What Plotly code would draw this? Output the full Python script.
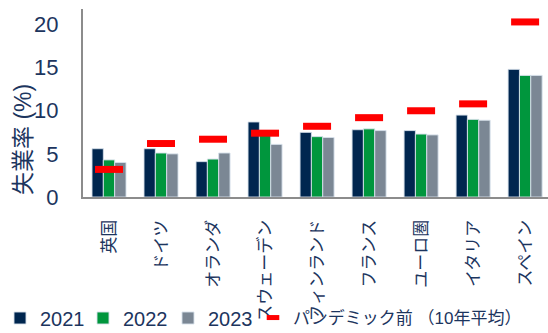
import plotly.graph_objects as go

# Unemployment rate by economy (%)
countries = ["英国", "ドイツ", "オランダ", "スウェーデン", "フィンランド",
             "フランス", "ユーロ圏", "イタリア", "スペイン"]
rate_2021 = [5.6, 5.6, 4.1, 8.7, 7.5, 7.8, 7.7, 9.5, 14.8]
rate_2022 = [4.3, 5.1, 4.4, 7.3, 7.0, 7.9, 7.3, 9.0, 14.1]
rate_2023 = [4.0, 5.0, 5.1, 6.1, 6.9, 7.7, 7.2, 8.9, 14.1]
pre_pandemic_avg = [3.2, 6.2, 6.7, 7.4, 8.2, 9.2, 10.0, 10.8, 20.3]
avg_label = "パンデミック前 （10年平均）"

NAVY = "#00264f"
GREEN = "#00963d"
GREY = "#7b8794"
RED = "#ff0000"
TEXT = "#1c355e"
FONT = "Liberation Sans, Arial, Noto Sans CJK JP, sans-serif"
W, H = 548, 333

fig = go.Figure()
series = [("2021", rate_2021, NAVY, "legend"),
          ("2022", rate_2022, GREEN, "legend2"),
          ("2023", rate_2023, GREY, "legend3")]
for name, vals, col, lg in series:
    fig.add_trace(go.Bar(
        x=countries, y=vals, name=name, legend=lg,
        marker=dict(color=col, line=dict(color="rgba(215,225,235,0.9)", width=1)),
    ))

# pre-pandemic average shown as short red dashes over each group
fig.add_trace(go.Scatter(
    x=countries, y=pre_pandemic_avg, mode="markers",
    name=avg_label, showlegend=False,
    marker=dict(symbol="line-ew", size=20, color=RED,
                line=dict(color=RED, width=7)),
))
# legend key for the dashes (smaller glyph)
fig.add_trace(go.Scatter(
    x=[None], y=[None], mode="markers", name=avg_label, legend="legend4",
    marker=dict(symbol="line-ew", size=9, color=RED, line=dict(color=RED, width=5)),
))


def legend_at(px, size=20):
    return dict(
        orientation="h", xref="container", yref="container",
        x=px / W, y=1 - 318 / H, xanchor="left", yanchor="middle",
        font=dict(size=size, color=TEXT, family=FONT),
        bgcolor="rgba(0,0,0,0)",
    )


fig.update_layout(
    width=W, height=H,
    margin=dict(l=83, r=0, t=9, b=136, autoexpand=False),
    paper_bgcolor="white", plot_bgcolor="white",
    barmode="group", bargap=0.346, bargroupgap=0,
    font=dict(family=FONT, color=TEXT),
    showlegend=True,
    legend=legend_at(-3),
    legend2=legend_at(83),
    legend3=legend_at(168),
    legend4=legend_at(253, size=17),
    annotations=[dict(
        text="失業率 (%)", textangle=-90,
        xref="paper", yref="paper",
        x=(23 - 83) / 465, y=(197 - 140) / 188,
        xanchor="center", yanchor="middle", showarrow=False,
        font=dict(size=23, color=TEXT, family=FONT),
    )],
)

fig.update_xaxes(
    type="category", range=[-0.5, 8.44], automargin=False,
    showline=True, linecolor="#8c8c8c", linewidth=2,
    showgrid=False, ticks="", tickangle=-90,
    tickfont=dict(size=17, color=TEXT, family=FONT),
    ticklabelstandoff=14,
)

fig.update_yaxes(
    range=[0, 21.8], dtick=5, tick0=0, automargin=False,
    showline=True, linecolor="#8c8c8c", linewidth=2,
    showgrid=False, zeroline=False, ticks="",
    tickfont=dict(size=22, color=TEXT, family=FONT),
    ticklabelstandoff=18,
)

fig.write_html("out.html")
